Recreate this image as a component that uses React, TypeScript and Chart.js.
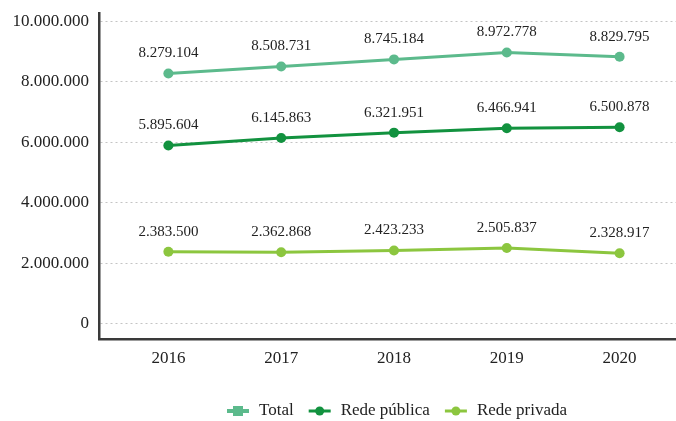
import React, { useEffect, useRef } from 'react';
import { Chart, registerables } from 'chart.js';
Chart.register(...registerables);

const years = ['2016', '2017', '2018', '2019', '2020'];
const total = [8279104, 8508731, 8745184, 8972778, 8829795];
const publica = [5895604, 6145863, 6321951, 6466941, 6500878];
const privada = [2383500, 2362868, 2423233, 2505837, 2328917];
const yTicks = [0, 2000000, 4000000, 6000000, 8000000, 10000000];
const seriesNames = ['Total', 'Rede pública', 'Rede privada'];
const colors = ['#5cba8c', '#12923f', '#8cc63f'];

const FONT = '"Liberation Serif", "Times New Roman", serif';
const fmt = (v: number) => String(Math.round(v)).replace(/\B(?=(\d{3})+(?!\d))/g, '.');

const labelPlugin = {
  id: 'valueLabels',
  afterDatasetsDraw(chart: any) {
    const ctx = chart.ctx;
    ctx.save();
    ctx.font = `15px ${FONT}`;
    ctx.fillStyle = '#222';
    ctx.textAlign = 'center';
    ctx.textBaseline = 'middle';
    chart.data.datasets.forEach((ds: any, di: number) => {
      const meta = chart.getDatasetMeta(di);
      meta.data.forEach((pt: any, i: number) => {
        ctx.fillText(fmt(ds.data[i].y), pt.x, pt.y - 20);
      });
    });
    ctx.restore();
  },
};

const legendPlugin = {
  id: 'customLegend',
  afterDraw(chart: any) {
    const ctx = chart.ctx;
    ctx.save();
    ctx.font = `17px ${FONT}`;
    ctx.textBaseline = 'middle';
    ctx.textAlign = 'left';
    const y = 411;
    let x = 227;
    seriesNames.forEach((name, i) => {
      const w = 22;
      ctx.strokeStyle = colors[i];
      ctx.fillStyle = colors[i];
      ctx.lineWidth = i === 0 ? 4 : 3;
      ctx.beginPath();
      ctx.moveTo(x, y);
      ctx.lineTo(x + w, y);
      ctx.stroke();
      if (i === 0) {
        ctx.fillRect(x + w / 2 - 5, y - 5, 10, 10);
      } else {
        ctx.beginPath();
        ctx.arc(x + w / 2, y, 4.5, 0, Math.PI * 2);
        ctx.fill();
      }
      x += w + 10;
      ctx.fillStyle = '#222';
      ctx.fillText(name, x, y);
      x += ctx.measureText(name).width + 15;
    });
    ctx.restore();
  },
};

const zeroPad = (scale: any) => {
  scale.paddingTop = 0;
  scale.paddingBottom = 0;
  scale.paddingLeft = 0;
  scale.paddingRight = 0;
};

export default function App() {
  const ref = useRef<HTMLCanvasElement>(null);
  useEffect(() => {
    document.body.style.margin = '0';
    const series = [total, publica, privada];
    const chart = new Chart(ref.current!, {
      type: 'line',
      data: {
        datasets: series.map((s, si) => ({
          label: seriesNames[si],
          data: s.map((v, i) => ({ x: i, y: v })),
          borderColor: colors[si],
          backgroundColor: colors[si],
          borderWidth: 3,
          pointRadius: 5,
          pointBorderWidth: 0,
          pointBackgroundColor: colors[si],
          tension: 0,
        })),
      },
      options: {
        responsive: false,
        animation: false,
        layout: { autoPadding: false, padding: { top: 13, bottom: 42, left: 0, right: 0 } },
        plugins: { legend: { display: false }, tooltip: { enabled: false } },
        scales: {
          x: {
            type: 'linear',
            min: -0.615,
            max: 4.5,
            afterBuildTicks: (scale: any) => {
              scale.ticks = years.map((_, i) => ({ value: i }));
            },
            afterFit: (scale: any) => {
              scale.height = 40;
              zeroPad(scale);
            },
            grid: { display: true, color: 'rgba(0,0,0,0)', drawTicks: false },
            border: { display: true, color: '#3a3a3a', width: 2.5 },
            ticks: {
              padding: 9,
              color: '#222',
              font: { family: FONT, size: 17 },
              callback: (v: any) => years[v] ?? '',
              maxRotation: 0,
              autoSkip: false,
            },
          },
          y: {
            type: 'linear',
            min: -506000,
            max: 10280000,
            afterBuildTicks: (scale: any) => {
              scale.ticks = yTicks.map((v) => ({ value: v }));
            },
            afterFit: (scale: any) => {
              scale.width = 99;
              zeroPad(scale);
            },
            grid: { color: '#c4c4c4', lineWidth: 1, drawTicks: false },
            border: { display: true, color: '#3a3a3a', width: 2.5, dash: [2, 3] },
            ticks: {
              padding: 10,
              color: '#222',
              font: { family: FONT, size: 17 },
              callback: (v: any) => fmt(Number(v)),
            },
          },
        },
      },
      plugins: [labelPlugin, legendPlugin],
    } as any);
    return () => chart.destroy();
  }, []);
  return <canvas ref={ref} width={676} height={421} style={{ display: 'block' }} />;
}
